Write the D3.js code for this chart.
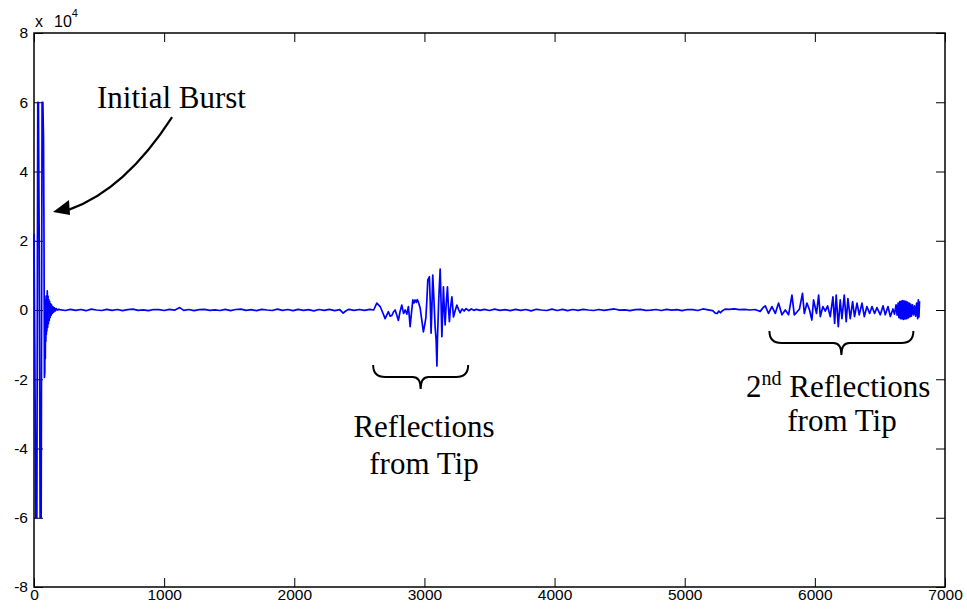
<!DOCTYPE html>
<html>
<head>
<meta charset="utf-8">
<script src="https://cdn.jsdelivr.net/npm/d3@7"></script>
<style>
body { margin: 0; background: #fff; }
svg { display: block; }
</style>
</head>
<body>
<div id="chart"></div>
<script>
var w = 967,
	h = 610;

// samples as [index, amplitude]
var burst = [[0, 22000], [6, -10000], [14, -60000], [22, -60000], [29, 60000], [34, 60000], [40, 20000],
	[47, -60000], [55, -60000], [62, 60000], [68, 60000], [73, 50000], [77, 20000], [80, -19500], [83, -18000],
	[85, 2000], [87, -14000], [89, 3000], [91, -9000], [93, 4000], [95, -7000], [97, 3000], [99, -6000],
	[102, 5500], [105, -5000], [108, 4000], [111, -4000], [114, 3000], [117, -3000], [120, 2500], [124, -2200],
	[128, 1800], [132, -1500], [136, 1400], [141, -1000], [146, 900], [151, -600], [157, 600], [163, -300],
	[170, 400], [178, 0], [188, 200]];

var quiet1 = [[200, 100], [240, -150], [280, 200], [320, -100], [360, 150], [400, -200], [440, 250], [480, 0],
	[520, -150], [560, 200], [600, -100], [640, 150], [680, -200], [720, 100], [760, 250], [800, -100], [840, 50],
	[880, -200], [920, 150], [960, 100], [1000, -150], [1040, 200], [1080, -50], [1120, 700], [1150, -100],
	[1190, 150], [1230, -200], [1270, 100], [1310, 200], [1350, -100], [1390, 50], [1430, -150], [1470, 200],
	[1510, -200], [1550, 150], [1590, 250], [1630, -100], [1670, 100], [1710, -200], [1750, 200], [1790, 0],
	[1830, -150], [1870, 250], [1910, -100], [1950, 150], [1990, -200], [2030, 200], [2070, -100], [2110, 100],
	[2150, -250], [2190, 150], [2230, -100], [2270, 200], [2310, -200], [2350, 100], [2375, -900], [2395, -300],
	[2420, 200], [2460, -100], [2500, 150], [2540, -100], [2580, 200], [2610, 0]];

var reflection1 = [[2634, 2000], [2660, 1000], [2680, -800], [2698, -2500], [2723, -500], [2737, -1800],
	[2749, -1600], [2762, -600], [2775, 0], [2788, -1500], [2800, -3000], [2813, -400], [2826, 1400],
	[2840, -1000], [2852, 0], [2865, -1200], [2877, 1000], [2884, -2000], [2890, -4800], [2900, -1000],
	[2911, 2900], [2920, 2000], [2928, 2900], [2938, 2200], [2945, 3000], [2952, 2500], [2967, 600],
	[2980, -3000], [2992, -6300], [3001, -4500], [3011, -2300], [3019, 3000], [3026, 8700], [3038, 9600],
	[3045, 2000], [3051, -6700], [3057, 0], [3064, 10100], [3073, 3000], [3082, -4800], [3090, -8700],
	[3096, -16200], [3100, -8700], [3110, 3000], [3121, 11800], [3128, 2000], [3134, -7700], [3140, -1000],
	[3146, 6700], [3152, 1000], [3159, -4300], [3167, 1500], [3177, 6700], [3184, 1000], [3192, -3400],
	[3200, 500], [3211, 3800], [3217, 1000], [3223, -2000], [3236, -200], [3249, 1400], [3262, 200],
	[3274, -800], [3290, 300], [3305, -300], [3320, 400], [3340, -200], [3360, 300], [3380, -100],
	[3400, 200], [3428, -100]];

var quiet2 = [[3460, 200], [3500, -150], [3540, 250], [3580, -100], [3620, 100], [3660, -200], [3700, 200],
	[3740, -100], [3780, 150], [3820, -250], [3860, 200], [3900, 0], [3940, -150], [3980, 250], [4020, -150],
	[4060, 200], [4100, -200], [4140, 150], [4180, -100], [4220, 200], [4260, 0], [4300, -150], [4340, 150],
	[4380, -100], [4420, 100], [4460, 300], [4500, -50], [4540, 50], [4580, -200], [4620, 100], [4660, 200],
	[4700, -100], [4740, -50], [4780, 150], [4820, -150], [4860, 200], [4900, -50], [4940, 100], [4980, -200],
	[5020, 150], [5060, 100], [5100, -150], [5140, 300], [5180, 50], [5215, -200], [5235, -900], [5250, -1000],
	[5262, -300], [5275, -800], [5290, -200], [5310, 250], [5340, 200], [5380, 300], [5420, 100], [5460, 200],
	[5500, 0], [5540, 150], [5580, -400], [5605, 800]];

var reflection2 = [[5619, 1200], [5644, -1000], [5670, 1000], [5696, -1000], [5721, 2000], [5747, -1400],
	[5773, 0], [5798, -1400], [5824, 4300], [5842, -1400], [5862, -600], [5882, 300], [5905, 4800],
	[5919, -1000], [5939, 2000], [5959, 0], [5977, -2900], [5990, 2900], [6013, -1000], [6029, 4300],
	[6042, -1900], [6062, 1000], [6080, -300], [6098, 1200], [6118, -1900], [6139, 3800], [6152, -3900],
	[6164, 4300], [6180, -4800], [6195, 2900], [6208, -2500], [6226, 4300], [6241, -3400], [6254, 3300],
	[6272, -2500], [6290, 2400], [6305, -1900], [6324, 2000], [6341, -1400], [6362, 2000], [6380, -1900],
	[6400, 1000], [6421, -1000], [6439, 1000], [6459, -1000], [6477, 700], [6503, -1400], [6524, 1200],
	[6541, -1400], [6562, 1000], [6580, -1900], [6600, 300], [6612, -1200], [6624, 1500], [6632, -1500],
	[6640, 2000], [6646, -2200], [6652, 2400], [6658, -2500], [6664, 2600], [6670, -2600], [6676, 2700],
	[6682, -2700], [6688, 2600], [6694, -2600], [6700, 2500], [6706, -2500], [6712, 2300], [6718, -2300],
	[6724, 2000], [6730, -2000], [6736, 1700], [6742, -1800], [6750, 1500], [6758, -1400], [6766, 1200],
	[6774, -1800], [6782, 2000], [6790, -2500], [6795, 2900], [6800, -2000], [6804, 2500]];

var xTicks = [0, 1000, 2000, 3000, 4000, 5000, 6000, 7000];
var yTicks = [-80000, -60000, -40000, -20000, 0, 20000, 40000, 60000, 80000];

var root = d3.select("#chart").append("svg").attr("width", w).attr("height", h);
root.append("rect").attr("width", w).attr("height", h).style("fill", "#fff");

var x = d3.scaleLinear().domain([0, 7000]).range([34, 945]);
var y = d3.scaleLinear().domain([-80000, 80000]).range([587, 33]);

var sans = "'Liberation Sans', Arial, sans-serif";

// axes, MATLAB style: ticks inside on all four sides
root.append("g").attr("transform", "translate(0," + y(-80000) + ")")
	.call(d3.axisBottom(x).tickValues(xTicks).tickSize(-9).tickPadding(2).tickFormat(d3.format("d")));
root.append("g").attr("transform", "translate(0," + y(80000) + ")")
	.call(d3.axisTop(x).tickValues(xTicks).tickSize(-9).tickFormat(""));
root.append("g").attr("transform", "translate(" + x(0) + ",0)")
	.call(d3.axisLeft(y).tickValues(yTicks).tickSize(-9).tickPadding(6).tickFormat(function(d) { return d / 1e4; }));
root.append("g").attr("transform", "translate(" + x(7000) + ",0)")
	.call(d3.axisRight(y).tickValues(yTicks).tickSize(-9).tickFormat(""));

root.selectAll(".domain").remove();
root.selectAll(".tick line").style("stroke", "#000").style("stroke-width", 1);
root.selectAll(".tick text").attr("font-family", sans).attr("font-size", 15.5).style("fill", "#000");

root.append("rect").attr("x", x(0)).attr("y", y(80000)).attr("width", x(7000) - x(0)).attr("height", y(-80000) - y(80000))
	.style("fill", "none").style("stroke", "#000").style("stroke-width", 1.5);

// exponent label
var expo = root.append("text").attr("x", x(0) + 1).attr("y", 27)
	.style("font-family", sans).style("font-size", "16px");
expo.append("tspan").text("x");
expo.append("tspan").attr("x", x(0) + 20).text("10");
expo.append("tspan").attr("dy", -10).style("font-size", "11px").text("4");

// signal
var signal = burst.concat(quiet1, reflection1, quiet2, reflection2);
var line = d3.line().x(function(d) { return x(d[0]); }).y(function(d) { return y(d[1]); });
root.append("path").datum(signal).attr("d", line)
	.style("fill", "none").style("stroke", "#0000ff").style("stroke-width", 1.7).style("stroke-linejoin", "round");

// annotations
var serif = "'Liberation Serif', 'Times New Roman', serif";

var a0 = [x(1061), y(55700)], a1 = [x(270), y(29000)];
root.append("path")
	.attr("d", "M" + a0[0] + "," + a0[1] + " Q125,190 " + a1[0] + "," + a1[1])
	.style("fill", "none").style("stroke", "#000").style("stroke-width", 2.2);
// arrow head
var tip = [x(146), y(28300)];
root.append("path")
	.attr("d", "M" + tip[0] + "," + tip[1] + " L" + (tip[0] + 16) + "," + (tip[1] - 12) + " L" + (tip[0] + 17) + "," + (tip[1] + 3) + " Z")
	.style("fill", "#000");

root.append("text").attr("x", 97).attr("y", 108).style("font-family", serif).style("font-size", "31px").text("Initial Burst");

function brace(x1, x2, y0) {
	var xm = (x1 + x2) / 2;
	var p = "M" + x1 + "," + y0 +
		" C" + x1 + "," + (y0 + 8) + " " + (x1 + 4) + "," + (y0 + 12) + " " + (x1 + 12) + "," + (y0 + 12) +
		" L" + (xm - 8) + "," + (y0 + 12) +
		" C" + (xm - 3) + "," + (y0 + 12) + " " + xm + "," + (y0 + 16) + " " + xm + "," + (y0 + 24) +
		" C" + xm + "," + (y0 + 16) + " " + (xm + 3) + "," + (y0 + 12) + " " + (xm + 8) + "," + (y0 + 12) +
		" L" + (x2 - 12) + "," + (y0 + 12) +
		" C" + (x2 - 4) + "," + (y0 + 12) + " " + x2 + "," + (y0 + 8) + " " + x2 + "," + y0;
	root.append("path").attr("d", p).style("fill", "none").style("stroke", "#000").style("stroke-width", 2);
}
brace(x(2606), x(3336), 365);
brace(x(5651), x(6757), 331);

function label(cx, yy, txt) {
	root.append("text").attr("x", cx).attr("y", yy).attr("text-anchor", "middle")
		.style("font-family", serif).style("font-size", "31px").text(txt);
}
label(424, 437, "Reflections");
label(424, 474, "from Tip");

var t2 = root.append("text").attr("x", 746).attr("y", 397).style("font-family", serif).style("font-size", "31px");
t2.append("tspan").text("2");
t2.append("tspan").attr("dy", -12).style("font-size", "20px").text("nd");
t2.append("tspan").attr("dy", 12).text(" Reflections");
label(842, 431, "from Tip");
</script>
</body>
</html>
